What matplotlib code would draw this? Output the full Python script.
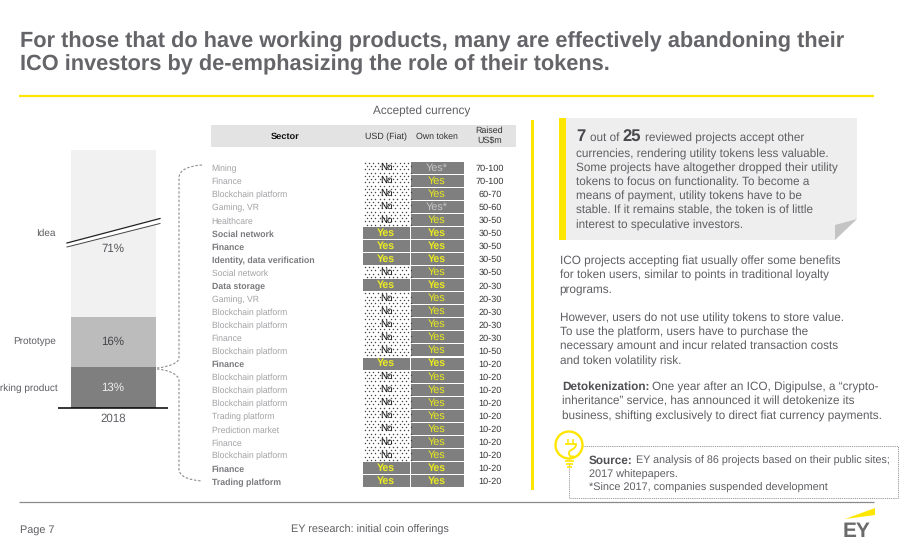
import matplotlib
matplotlib.use("Agg")
import matplotlib.pyplot as plt
import numpy as np
from matplotlib.patches import Rectangle, Polygon, Circle, PathPatch
from matplotlib.path import Path

plt.rcParams['font.family'] = ['Liberation Sans', 'DejaVu Sans']
plt.rcParams['text.hinting'] = 'no_hinting'
plt.rcParams['text.hinting_factor'] = 8

# ---- data ----
stages = ["Working product", "Prototype", "Idea"]
shares = [13, 16, 71]
stage_colors = ["#7f7f7f", "#bcbcbc", "#f1f1f1"]
year = "2018"

sectors = ["Mining", "Finance", "Blockchain platform", "Gaming, VR", "Healthcare",
           "Social network", "Finance", "Identity, data verification", "Social network",
           "Data storage", "Gaming, VR", "Blockchain platform", "Blockchain platform",
           "Finance", "Blockchain platform", "Finance", "Blockchain platform",
           "Blockchain platform", "Blockchain platform", "Trading platform",
           "Prediction market", "Finance", "Blockchain platform", "Finance",
           "Trading platform"]
usd_fiat = ["No", "No", "No", "No", "No", "Yes", "Yes", "Yes", "No", "Yes", "No", "No", "No",
            "No", "No", "Yes", "No", "No", "No", "No", "No", "No", "No", "Yes", "Yes"]
own_token = ["Yes*", "Yes", "Yes", "Yes*", "Yes", "Yes", "Yes", "Yes", "Yes", "Yes", "Yes", "Yes",
             "Yes", "Yes", "Yes", "Yes", "Yes", "Yes", "Yes", "Yes", "Yes", "Yes", "Yes", "Yes", "Yes"]
raised = ["70-100", "70-100", "60-70", "50-60", "30-50", "30-50", "30-50", "30-50", "30-50",
          "20-30", "20-30", "20-30", "20-30", "20-30", "10-50", "10-20", "10-20", "10-20",
          "10-20", "10-20", "10-20", "10-20", "10-20", "10-20", "10-20"]

W, H = 909, 548
YEL = "#FFE600"
TXT = "#5f5f64"
BODY = 8.45

fig = plt.figure(figsize=(W / 100, H / 100), dpi=100, facecolor="white")

# page layer in pixel coordinates
pg = fig.add_axes([0, 0, 1, 1])
pg.set_xlim(0, W)
pg.set_ylim(H, 0)
pg.axis("off")


def T(x, y, s, size=8, color=TXT, ha="left", va="center", weight="normal", **kw):
    return pg.text(x, y, s, fontsize=size, color=color, ha=ha, va=va, fontweight=weight, **kw)


# title
T(20, 47, "For those that do have working products, many are effectively abandoning their",
  size=15.67, color="#646469", weight="bold", va="baseline")
T(20, 70, "ICO investors by de-emphasizing the role of their tokens.",
  size=15.67, color="#646469", weight="bold", va="baseline")
pg.plot([19, 874], [96, 96], color=YEL, lw=1.6, solid_capstyle="butt")

# stacked bar: the tall top segment runs past the axes and is clipped (broken bar)
bar = fig.add_axes([58 / W, 1 - 408 / H, 110 / W, 258 / H])
bar.set_xlim(0, 110)
bar.set_ylim(0, 81.9)
bar.axis("off")
bottom = 0
for s, c in zip(shares, stage_colors):
    bar.bar(55, s, bottom=bottom, width=85, color=c, linewidth=0)
    bottom += s
pg.set_zorder(bar.get_zorder() + 1)
pg.patch.set_alpha(0)

pg.add_patch(Polygon([[67, 243], [160, 218], [160, 223], [67, 247]], fc="white", ec="none"))
pg.plot([67, 160], [243, 218.5], color="#222222", lw=0.9)
pg.plot([67, 160], [247, 223.5], color="#444444", lw=0.7)
pg.plot([58, 168], [408, 408], color="black", lw=1.1, solid_capstyle="butt")
T(113, 418.5, year, size=8.3, ha="center")
T(113, 249, f"{shares[2]}%", size=8.3, ha="center", color="#55555a")
T(113, 341.5, f"{shares[1]}%", size=8.3, ha="center", color="#45454a")
T(113, 388, f"{shares[0]}%", size=8.3, ha="center", color="#f0f0f0")
T(56, 233, stages[2], size=7.2, ha="right")
T(56, 341.5, stages[1], size=7.2, ha="right")
T(58, 388, stages[0], size=7.2, ha="right")

# dashed braces
dash = dict(fc="none", ec="#8c8c8c", lw=0.8, ls=(0, (2.2, 1.6)))
pg.add_patch(PathPatch(Path([(202, 165), (188, 166), (179, 170), (179, 178), (179, 358),
                             (179, 363), (168, 367), (157, 368)],
                            [1, 4, 4, 4, 2, 4, 4, 4]), **dash))
pg.add_patch(PathPatch(Path([(157, 369), (168, 370), (179, 374), (179, 381), (179, 469),
                             (179, 476), (188, 480), (202, 481)],
                            [1, 4, 4, 4, 2, 4, 4, 4]), **dash))

# table
T(422, 111, "Accepted currency", size=8.5, ha="center")
pg.add_patch(Rectangle((211, 125), 305, 22, fc="#e3e3e3", ec="none"))
T(285, 136.5, "Sector", size=6.7, ha="center", color="#111111", weight="bold")
T(386, 136.5, "USD (Fiat)", size=6.4, ha="center", color="#333333")
T(436.5, 136.5, "Own token", size=6.3, ha="center", color="#333333")
T(489.5, 130.5, "Raised", size=6.4, ha="center", color="#333333")
T(489.5, 141.5, "US$m", size=6.4, ha="center", color="#333333")

Y0, DY = 167.6, 13.06
dot_x = np.arange(364.5, 409.5, 4.4)
dot_dy = np.array([-5.0, -1.7, 1.6, 4.9])
for i, (sec, usd, own, rsd) in enumerate(zip(sectors, usd_fiat, own_token, raised)):
    y = Y0 + i * DY
    strong = usd == "Yes"
    T(211.5, y + 1.3, sec, size=6.35 if strong else 6.25,
      color="#7a7a7e" if strong else "#a2a2a6", weight="bold" if strong else "normal")
    if strong:
        pg.add_patch(Rectangle((363, y - 6), 46.5, 12, fc="#7f7f7f", ec="none"))
        T(386.3, y, usd, size=7.6, ha="center", color="#EEEE22", weight="bold")
    else:
        xx, yy = np.meshgrid(dot_x, y + dot_dy)
        xx = xx + (np.arange(4)[:, None] % 2) * 2.2
        pg.scatter(xx.ravel(), yy.ravel(), s=1.1, c="#444444", linewidths=0, zorder=2)
        T(386.3, y, usd, size=7, ha="center", color="#111111", zorder=3)
    pg.add_patch(Rectangle((411, y - 6), 52.5, 12, fc="#7f7f7f", ec="none"))
    T(437, y, own, size=7.8 if not strong else 7.6, ha="center",
      color="#c8c8c8" if "*" in own else "#EAEA20", weight="bold" if strong else "normal")
    T(490, y + 1, rsd, size=6.6, ha="center", color="#333333")

# right column
pg.add_patch(Rectangle((531, 120), 3, 370, fc=YEL, ec="none"))
pg.add_patch(Polygon([[566, 118], [857, 118], [857, 219], [835, 240], [566, 240]],
                     fc="#eeeeee", ec="none"))
pg.add_patch(Rectangle((559, 118), 7, 122, fc=YEL, ec="none"))
pg.add_patch(Polygon([[857, 219], [835, 225], [835, 240]], fc="#c4c4c4", ec="none"))

T(576, 137, "7", size=12, color="#48484d", weight="bold")
T(590, 138, "out of", size=BODY)
T(622.5, 137, "25", size=12, color="#48484d", weight="bold")
T(645, 138, "reviewed projects accept other", size=BODY)
card = ["currencies, rendering utility tokens less valuable.",
        "Some projects have altogether dropped their utility",
        "tokens to focus on functionality. To become a",
        "means of payment, utility tokens have to be",
        "stable. If it remains stable, the token is of little",
        "interest to speculative investors."]
for y, s in zip([154, 168, 182, 196, 210, 225], card):
    T(576, y, s, size=BODY)

para = [(261, "ICO projects accepting fiat usually offer some benefits"),
        (275, "for token users, similar to points in traditional loyalty"),
        (289, "programs."),
        (318, "However, users do not use utility tokens to store value."),
        (332, "To use the platform, users have to purchase the"),
        (346, "necessary amount and incur related transaction costs"),
        (361, "and token volatility risk.")]
for y, s in para:
    T(559.5, y, s, size=BODY)

T(562, 387, "Detokenization:", size=BODY, weight="bold", color="#4f4f54")
T(652.5, 387, "One year after an ICO, Digipulse, a \u201ccrypto-", size=BODY)
T(562, 401, "inheritance\u201d service, has announced it will detokenize its", size=BODY)
T(562, 416, "business, shifting exclusively to direct fiat currency payments.", size=BODY)

# source box
pg.add_patch(Rectangle((569, 446), 329, 52, fc="none", ec="#9a9a9a", lw=0.7, ls=(0, (1.2, 1))))
pg.add_patch(Circle((569, 445), 13.5, fc="white", ec=YEL, lw=1.7))
pg.add_patch(PathPatch(Path([(565, 444), (576, 444), (576, 450), (569, 449), (569, 453),
                             (569, 457), (572, 457), (574, 456)],
                            [1, 2, 4, 4, 4, 4, 4, 4]),
                       fc="none", ec=YEL, lw=1.3))
pg.plot([568, 568], [439, 443], color=YEL, lw=1.1, solid_capstyle="butt")
pg.plot([573, 573], [439, 443], color=YEL, lw=1.1, solid_capstyle="butt")
for y, a, b in [(460.5, 564.5, 574), (463.5, 565.5, 573), (466.5, 567, 571.5)]:
    pg.plot([a, b], [y, y], color=YEL, lw=1.2, solid_capstyle="butt")

T(589, 461, "Source:", size=BODY, weight="bold", color="#4f4f54")
T(636.5, 461, "EY analysis of 86 projects based on their public sites;", size=7.75)
T(589, 475, "2017 whitepapers.", size=7.85)
T(589, 488, "*Since 2017, companies suspended development", size=7.8)

# footer
pg.plot([19, 874], [502, 502], color="#8a8a8a", lw=0.9, solid_capstyle="butt")
T(19.5, 530, "Page 7", size=7.85)
T(370, 530, "EY research: initial coin offerings", size=7.85, ha="center")
pg.add_patch(Polygon([[845, 519], [875, 508], [875, 515]], fc=YEL, ec="none"))
T(856.5, 532, "EY", size=15, ha="center", color="#6b6b6b", weight="bold")

fig.savefig("out.png", dpi=100, facecolor="white")
